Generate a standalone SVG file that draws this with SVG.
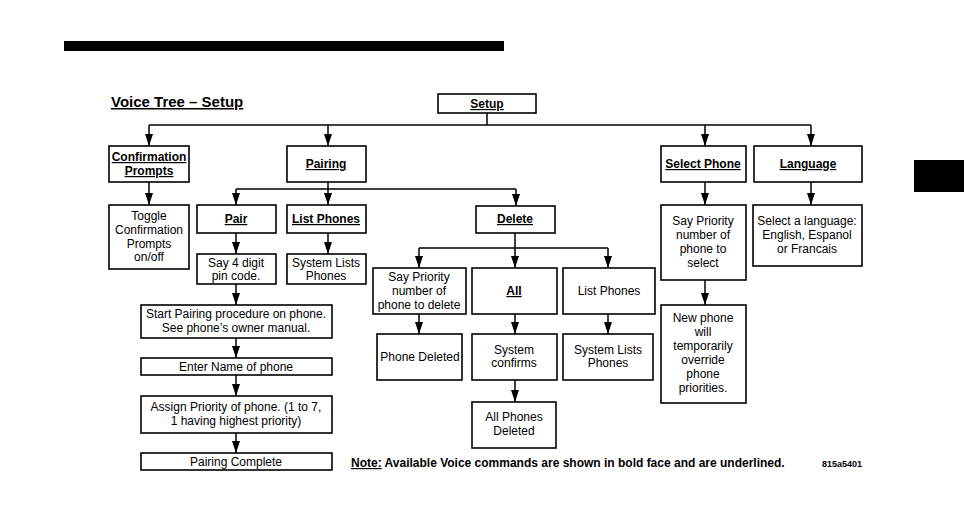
<svg xmlns="http://www.w3.org/2000/svg" width="964" height="505" viewBox="0 0 964 505">
<style>
.box{fill:#fff;stroke:#000;stroke-width:1.6}
.t{font-family:"Liberation Sans",Arial,sans-serif;font-size:12px;fill:#000;text-anchor:middle}
.b{font-weight:bold;text-decoration:underline}
.c{fill:none;stroke:#000;stroke-width:1.5}
.a{marker-end:url(#arr)}
</style>
<defs>
<marker id="arr" viewBox="0 0 10 10" refX="10" refY="5" markerWidth="12" markerHeight="8" markerUnits="userSpaceOnUse" orient="auto" preserveAspectRatio="none">
<path d="M0,0 L10,5 L0,10 z" fill="#000"/>
</marker>
</defs>
<rect x="64" y="41" width="440" height="10" fill="#000"/>
<rect x="914" y="160" width="50" height="32" fill="#000"/>
<text x="111" y="107" class="t b" style="text-anchor:start;font-size:15px">Voice Tree – Setup</text>

<g id="connectors">
<path class="c" d="M487,113 V125 M149,125 H811"/>
<path class="c a" d="M149,125 V146"/>
<path class="c a" d="M328,125 V146"/>
<path class="c a" d="M705,125 V146"/>
<path class="c a" d="M811,125 V146"/>
<path class="c a" d="M149,182 V205"/>
<path class="c" d="M328,182 V189 M236,189 H516"/>
<path class="c a" d="M236,189 V205"/>
<path class="c a" d="M328,189 V205"/>
<path class="c a" d="M516,189 V206"/>
<path class="c a" d="M236,233 V254"/>
<path class="c a" d="M328,233 V254"/>
<path class="c a" d="M236,284 V305"/>
<path class="c a" d="M236,338 V358"/>
<path class="c a" d="M236,375 V396"/>
<path class="c a" d="M236,433 V453"/>
<path class="c" d="M515,233 V248 M419,248 H608"/>
<path class="c a" d="M419,248 V268"/>
<path class="c a" d="M515,248 V268"/>
<path class="c a" d="M608,248 V268"/>
<path class="c a" d="M419,314 V334"/>
<path class="c a" d="M515,314 V334"/>
<path class="c a" d="M608,314 V334"/>
<path class="c a" d="M515,380 V402"/>
<path class="c a" d="M705,182 V205"/>
<path class="c a" d="M705,280 V305"/>
<path class="c a" d="M811,182 V205"/>
</g>

<g id="setup"><rect class="box" x="438" y="94" width="98" height="19"/><text class="t b" x="487" y="108">Setup</text></g>
<g id="confirmation"><rect class="box" x="109" y="146" width="80" height="36"/><text class="t b" x="149" y="161">Confirmation</text><text class="t b" x="149" y="175">Prompts</text></g>
<g id="pairing"><rect class="box" x="287" y="146" width="79" height="36"/><text class="t b" x="326" y="168">Pairing</text></g>
<g id="selectphone"><rect class="box" x="661" y="146" width="85" height="36"/><text class="t b" x="703" y="168">Select Phone</text></g>
<g id="language"><rect class="box" x="754" y="146" width="108" height="36"/><text class="t b" x="808" y="168">Language</text></g>

<g id="toggle"><rect class="box" x="109" y="205" width="80" height="64"/><text class="t" x="149" y="220">Toggle</text><text class="t" x="149" y="234">Confirmation</text><text class="t" x="149" y="248">Prompts</text><text class="t" x="149" y="261">on/off</text></g>
<g id="pair"><rect class="box" x="197" y="205" width="79" height="28"/><text class="t b" x="236" y="223">Pair</text></g>
<g id="listphones"><rect class="box" x="287" y="205" width="79" height="28"/><text class="t b" x="326" y="223">List Phones</text></g>
<g id="delete"><rect class="box" x="476" y="206" width="79" height="27"/><text class="t b" x="515" y="223">Delete</text></g>
<g id="say4digit"><rect class="box" x="197" y="254" width="79" height="30"/><text class="t" x="236" y="267">Say 4 digit</text><text class="t" x="236" y="280">pin code.</text></g>
<g id="syslists1"><rect class="box" x="287" y="254" width="79" height="30"/><text class="t" x="326" y="267">System Lists</text><text class="t" x="326" y="280">Phones</text></g>
<g id="startpairing"><rect class="box" x="141" y="305" width="191" height="33"/><text class="t" x="236" y="318">Start Pairing procedure on phone.</text><text class="t" x="236" y="332">See phone’s owner manual.</text></g>
<g id="entername"><rect class="box" x="141" y="358" width="191" height="17"/><text class="t" x="236" y="371">Enter Name of phone</text></g>
<g id="assign"><rect class="box" x="141" y="396" width="191" height="37"/><text class="t" x="236" y="411">Assign Priority of phone. (1 to 7,</text><text class="t" x="236" y="425">1 having highest priority)</text></g>
<g id="complete"><rect class="box" x="141" y="453" width="191" height="17"/><text class="t" x="236" y="466">Pairing Complete</text></g>

<g id="saypriority"><rect class="box" x="373" y="268" width="93" height="46"/><text class="t" x="419" y="281">Say Priority</text><text class="t" x="419" y="295">number of</text><text class="t" x="419" y="309">phone to delete</text></g>
<g id="all"><rect class="box" x="472" y="268" width="85" height="46"/><text class="t b" x="514" y="295">All</text></g>
<g id="listphones2"><rect class="box" x="563" y="268" width="92" height="46"/><text class="t" x="609" y="295">List Phones</text></g>
<g id="phonedeleted"><rect class="box" x="377" y="334" width="85" height="46"/><text class="t" x="420" y="361">Phone Deleted</text></g>
<g id="sysconfirms"><rect class="box" x="472" y="334" width="85" height="46"/><text class="t" x="514" y="354">System</text><text class="t" x="514" y="367">confirms</text></g>
<g id="syslists2"><rect class="box" x="563" y="334" width="90" height="46"/><text class="t" x="608" y="354">System Lists</text><text class="t" x="608" y="367">Phones</text></g>
<g id="alldeleted"><rect class="box" x="472" y="402" width="84" height="46"/><text class="t" x="514" y="421">All Phones</text><text class="t" x="514" y="435">Deleted</text></g>

<g id="saypriority2"><rect class="box" x="661" y="205" width="85" height="75"/><text class="t" x="703" y="225">Say Priority</text><text class="t" x="703" y="239">number of</text><text class="t" x="703" y="253">phone to</text><text class="t" x="703" y="267">select</text></g>
<g id="newphone"><rect class="box" x="661" y="305" width="85" height="98"/><text class="t" x="703" y="322">New phone</text><text class="t" x="703" y="336">will</text><text class="t" x="703" y="350">temporarily</text><text class="t" x="703" y="364">override</text><text class="t" x="703" y="378">phone</text><text class="t" x="703" y="392">priorities.</text></g>
<g id="selectlang"><rect class="box" x="753" y="205" width="109" height="61"/><text class="t" x="807" y="225">Select a language:</text><text class="t" x="807" y="239">English, Espanol</text><text class="t" x="807" y="253">or Francais</text></g>

<text class="t" x="351" y="467" style="text-anchor:start;font-weight:bold"><tspan style="text-decoration:underline">Note:</tspan> Available Voice commands are shown in bold face and are underlined.</text>
<text class="t" x="822" y="467" style="text-anchor:start;font-size:9px;font-weight:bold">815a5401</text>
</svg>
